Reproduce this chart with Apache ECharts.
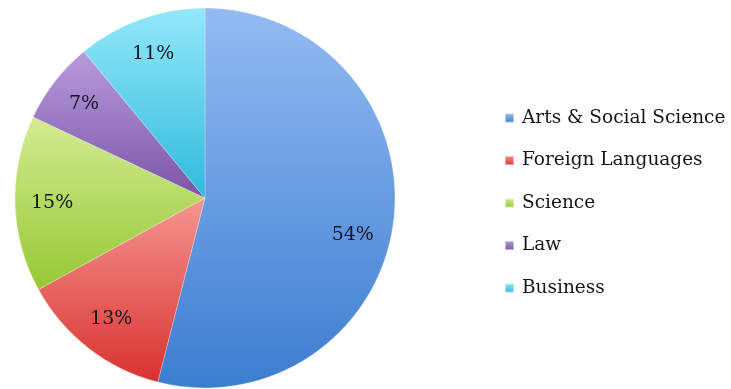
<!DOCTYPE html>
<html>
<head>
<meta charset="utf-8">
<style>
  html, body { margin: 0; padding: 0; background: #fff; }
  #main { width: 731px; height: 389px; }
</style>
<script src="https://cdn.jsdelivr.net/npm/echarts@6/dist/echarts.min.js"></script>
</head>
<body>
<div id="main"></div>
<script>
// data
var categories = ['Arts & Social Science', 'Foreign Languages', 'Science', 'Law', 'Business'];
var shares = [54, 13, 15, 7, 11];
// top / bottom colour of each slice gradient
var topColors = ['#93bbf2', '#f69590', '#d3eb92', '#b89bdc', '#93e8f9'];
var bottomColors = ['#3c7dd0', '#d8322f', '#96c834', '#7a55a6', '#2fbadc'];

function grad(i) {
    return new echarts.graphic.LinearGradient(0, 0, 0, 1, [
        { offset: 0, color: topColors[i] },
        { offset: 1, color: bottomColors[i] }
    ]);
}

var chart = echarts.init(document.getElementById('main'), null, { renderer: 'canvas' });

var pieData = categories.map(function (name, i) {
    return { name: name, value: shares[i], itemStyle: { color: grad(i) } };
});
// transparent ring only used to push the labels outward
var labelData = categories.map(function (name, i) {
    return { name: name, value: shares[i], itemStyle: { color: 'rgba(0,0,0,0)' } };
});
// the big slice's label sits a bit lower in the original
labelData[0].label = { offset: [-4, 18] };

chart.setOption({
    animation: false,
    legend: {
        orient: 'vertical',
        left: 499,
        top: 103,
        itemWidth: 9,
        itemHeight: 9,
        itemGap: 22.5,
        icon: 'rect',
        data: categories,
        textStyle: {
            fontFamily: 'DejaVu Serif',
            fontSize: 18.5,
            lineHeight: 20,
            color: '#15151d',
            padding: [0, 0, 0, 3]
        }
    },
    series: [
        {
            type: 'pie',
            center: [205, 198],
            radius: [0, 190],
            startAngle: 90,
            clockwise: true,
            silent: true,
            label: { show: false },
            labelLine: { show: false },
            itemStyle: { borderColor: 'rgba(255,255,255,0.5)', borderWidth: 0.5 },
            data: pieData
        },
        {
            type: 'pie',
            center: [205, 198],
            radius: [110, 190],
            startAngle: 90,
            clockwise: true,
            silent: true,
            legendHoverLink: false,
            label: {
                show: true,
                position: 'inside',
                formatter: '{c}%',
                fontFamily: 'DejaVu Serif',
                fontSize: 19,
                color: '#15151f'
            },
            labelLine: { show: false },
            data: labelData
        }
    ]
});
</script>
</body>
</html>
